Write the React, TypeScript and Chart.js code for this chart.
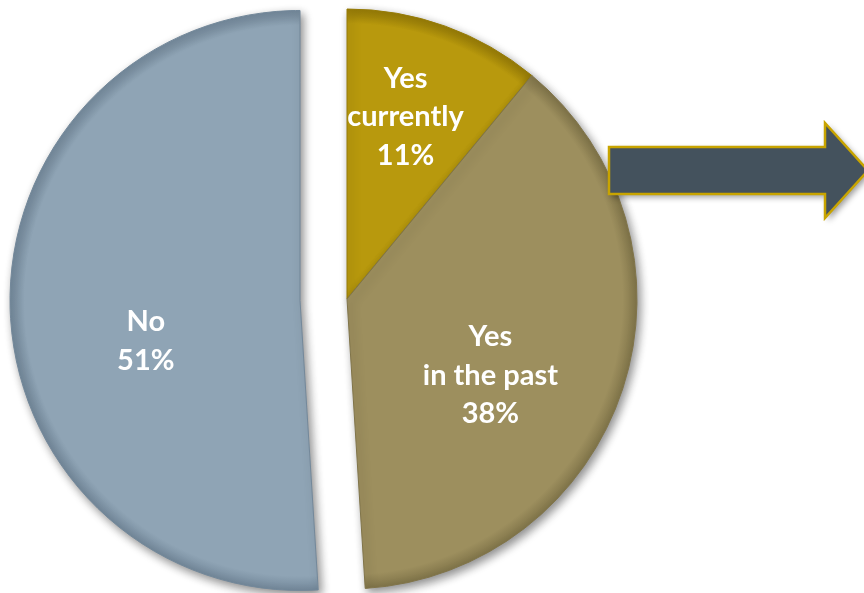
import React, { useEffect, useRef } from "react";
import { Chart, registerables, ArcElement } from "chart.js";

Chart.register(...registerables);

const categories = ["Yes currently", "Yes in the past", "No"];
const labelLines = [["Yes", "currently", "11%"], ["Yes", "in the past", "38%"], ["No", "51%"]];
const values = [11, 38, 51];
const colors = ["#B8990D", "#9D8F5E", "#8FA4B5"];
const rimColors = ["#967B07", "#807449", "#73889A"];
const explode = [0, 0, 47];
// label placement: fraction of radius and angle tweak (degrees) from slice mid-angle
const labelFrac = [0.66, 0.56, 0.55];
const labelDelta = [-2, 10, -13];

const PIE_RADIUS = 290;

function makeGradient(ctx: CanvasRenderingContext2D, cx: number, cy: number, i: number) {
  const g = ctx.createRadialGradient(cx, cy, 0, cx, cy, PIE_RADIUS);
  g.addColorStop(0, colors[i]);
  g.addColorStop(0.95, colors[i]);
  g.addColorStop(1, rimColors[i]);
  return g;
}

const explodePlugin = {
  id: "explodeShift",
  afterUpdate(chart: any) {
    const meta = chart.getDatasetMeta(0);
    meta.data.forEach((el: any, i: number) => {
      const s = explode[i];
      const orig = ArcElement.prototype.draw;
      el.draw = function (ctx: CanvasRenderingContext2D) {
        const mid = (this.startAngle + this.endAngle) / 2;
        ctx.save();
        ctx.translate(Math.cos(mid) * s, Math.sin(mid) * s);
        orig.call(this, ctx);
        ctx.restore();
      };
    });
  },
  beforeDatasetsDraw(chart: any) {
    const ctx = chart.ctx;
    ctx.save();
    ctx.shadowColor = "rgba(0,0,0,0.45)";
    ctx.shadowBlur = 10;
    ctx.shadowOffsetX = 3;
    ctx.shadowOffsetY = 4;
  },
  afterDatasetsDraw(chart: any) {
    const ctx = chart.ctx;
    ctx.restore();
    const meta = chart.getDatasetMeta(0);
    ctx.save();
    ctx.fillStyle = "#FFFFFF";
    ctx.font = "bold 29px Lato, 'Open Sans', sans-serif";
    ctx.textAlign = "center";
    ctx.textBaseline = "middle";
    meta.data.forEach((el: any, i: number) => {
      const mid = (el.startAngle + el.endAngle) / 2;
      const s = explode[i];
      const cx = el.x + Math.cos(mid) * s;
      const cy = el.y + Math.sin(mid) * s;
      const a = mid + (labelDelta[i] * Math.PI) / 180;
      const r = el.outerRadius * labelFrac[i];
      const lx = cx + Math.cos(a) * r;
      const ly = cy + Math.sin(a) * r;
      const lines = labelLines[i];
      const lh = 38.5;
      const top = ly - ((lines.length - 1) * lh) / 2;
      lines.forEach((t, k) => ctx.fillText(t, lx, top + k * lh));
    });
    ctx.restore();
  },
  afterDraw(chart: any) {
    const ctx = chart.ctx;
    ctx.save();
    ctx.shadowColor = "rgba(0,0,0,0.4)";
    ctx.shadowBlur = 6;
    ctx.shadowOffsetX = 3;
    ctx.shadowOffsetY = 3;
    ctx.beginPath();
    ctx.moveTo(609, 147);
    ctx.lineTo(825, 147);
    ctx.lineTo(825, 123);
    ctx.lineTo(868, 170.5);
    ctx.lineTo(825, 218);
    ctx.lineTo(825, 194);
    ctx.lineTo(609, 194);
    ctx.closePath();
    ctx.fillStyle = "#44525D";
    ctx.fill();
    ctx.shadowColor = "transparent";
    ctx.lineWidth = 2.5;
    ctx.strokeStyle = "#C8A400";
    ctx.stroke();
    ctx.restore();
  },
};

export default function App() {
  const ref = useRef<HTMLCanvasElement>(null);
  useEffect(() => {
    document.body.style.margin = "0";
    const chart = new Chart(ref.current!, {
      type: "pie",
      data: {
        labels: categories,
        datasets: [
          {
            data: values,
            backgroundColor: (c: any) => {
              const area = c.chart.chartArea;
              if (!area) return colors[c.dataIndex];
              const cx = (area.left + area.right) / 2;
              const cy = (area.top + area.bottom) / 2;
              return makeGradient(c.chart.ctx, cx, cy, c.dataIndex);
            },
            borderColor: rimColors,
            borderWidth: 1,
            clip: false,
          } as any,
        ],
      },
      options: {
        animation: false,
        responsive: false,
        radius: PIE_RADIUS,
        rotation: 0,
        layout: { padding: { left: 0, right: 170, top: 5, bottom: 0 } },
        plugins: {
          legend: { display: false },
          tooltip: { enabled: false },
        },
      } as any,
      plugins: [explodePlugin],
    });
    return () => chart.destroy();
  }, []);
  return (
    <div style={{ width: 864, height: 593, background: "#FFFFFF" }}>
      <canvas ref={ref} width={864} height={593} />
    </div>
  );
}
